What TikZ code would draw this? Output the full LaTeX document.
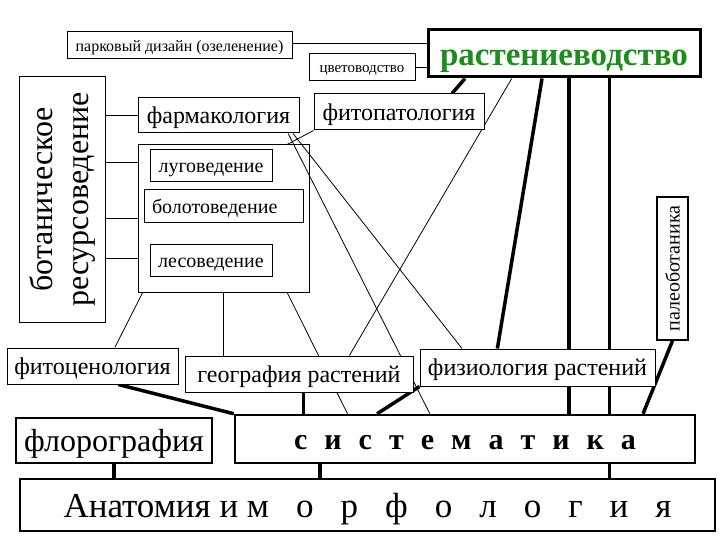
\documentclass[tikz,border=0pt]{standalone}
\usepackage{fontspec}
\setmainfont{Liberation Serif}
\usetikzlibrary{calc,backgrounds}
\definecolor{plantgreen}{RGB}{30,140,30}
\newcommand{\fsz}[1]{\fontsize{#1}{#1}\selectfont}
\tikzset{
    box/.style = {
        draw,
        fill = white,
        line width = 1pt,
        inner sep = 0pt,
        },
    bold box/.style = {
        box,
        line width = 2.5pt,
        },
    frame/.style = {
        draw,
        line width = 1pt,
        inner sep = 0pt,
        },
    fs/.style = {
        font = \fsz{#1},
        text height = 0.95*#1pt,
        text depth = 0.25*#1pt,
        },
    thin link/.style = {
        line width = 0.8pt,
        },
    thick link/.style = {
        line width = 3.5pt,
        },
}

\begin{document}
\begin{tikzpicture}[x=1pt, y=-1pt]
\useasboundingbox (0,0) rectangle (720,540);

% upper part
\node [box, minimum width=225pt, minimum height=27pt, fs=16] (park) at (179.5,45.5) {парковый дизайн (озеленение)};
\node [box, minimum width=106pt, minimum height=27pt, fs=15] (cvet) at (362,67.5) {цветоводство};
\node [bold box, line width=3pt, minimum width=272pt, minimum height=47pt, fs=33, font=\fsz{33}\bfseries, text=plantgreen] (rast) at (564,53.5) {растениеводство};
\node [box, minimum width=161pt, minimum height=35pt, fs=24] (farm) at (218.5,115.5) {фармакология};
\node [box, minimum width=170pt, minimum height=36pt, fs=24] (fitopat) at (399,112) {фитопатология};
\node [box, rotate=90, align=center, minimum width=245pt, minimum height=86pt, font=\fontsize{32}{36}\selectfont] (bot) at (62,199.5) {ботаническое\\ресурсоведение};

% group of resource sciences
\node [frame, minimum width=171pt, minimum height=147pt] (group) at (223.5,218.5) {};
\node [box, minimum width=122pt, minimum height=32pt, fs=20] (lug) at (211,166) {луговедение};
\node [box, minimum width=159pt, minimum height=33pt, fs=20] (bolot) at (223.5,206.5) {\makebox[143pt][l]{болотоведение}};
\node [box, minimum width=122pt, minimum height=32pt, fs=20] (les) at (211,260) {лесоведение};

\node [box, line width=1.5pt, rotate=90, minimum width=143pt, minimum height=31pt, fs=20] (paleo) at (672.5,268.5) {палеоботаника};

% lower part
\node [box, minimum width=171pt, minimum height=36pt, fs=24] (cenol) at (92.5,366) {фитоценология};
\node [box, minimum width=228pt, minimum height=36pt, fs=24] (geogr) at (299,374) {география растений};
\node [box, minimum width=235pt, minimum height=37pt, fs=24] (fiziol) at (537.5,367.5) {физиология растений};
\node [box, line width=1.5pt, minimum width=196pt, minimum height=45pt, fs=32] (florogr) at (114,440.5) {флорография};
\node [bold box, minimum width=460pt, minimum height=48pt, fs=30, font=\fsz{30}\bfseries] (sist) at (465,439) {{\spaceskip=17pt\relax с и с т е м а т и к а}};
\node [bold box, minimum width=695pt, minimum height=52pt, fs=35] (anat) at (367.5,505) {Анатомия и м\hspace{27pt}{\spaceskip=27pt\relax о р ф о л о г и я}};

\begin{scope}[on background layer]
    \path ($(park.north east)!.41!(park.south east)$) coordinate (p1)
          ($(rast.south west)!.518!(rast.south east)$) coordinate (r1)
          ($(rast.south west)!.665!(rast.south east)$) coordinate (r2)
          ($(geogr.south west)!.52!(geogr.south east)$) coordinate (geo1)
          ($(sist.south west)!.187!(sist.south east)$) coordinate (s1)
          ($(group.north west)!.12!(group.south west)$) coordinate (g1)
          ($(group.north west)!.5!(group.south west)$) coordinate (g2)
          ($(group.north west)!.77!(group.south west)$) coordinate (g3);

    \draw [thin link] (p1) -- (p1 -| rast.west);
    \draw [thin link] (cvet.east) -- (cvet.east -| rast.west);
    \draw [thin link] (farm.west) -- (farm.west -| bot.south);
    \draw [thin link] (g1) -- (g1 -| bot.south);
    \draw [thin link] (g2) -- (g2 -| bot.south);
    \draw [thin link] (g3) -- (g3 -| bot.south);

    \draw [thin link] ($(group.south west)!.03!(group.south east)$) -- ($(cenol.north west)!.63!(cenol.north east)$);
    \draw [thin link] (group.south) -- (group.south |- geogr.north);
    \draw [thin link] ($(group.south west)!.87!(group.south east)$) -- ($(sist.north west)!.246!(sist.north east)$);
    \draw [thin link] ($(farm.south west)!.93!(farm.south east)$) -- ($(sist.north west)!.424!(sist.north east)$);
    \draw [thin link] ($(farm.south west)!.96!(farm.south east)$) -- ($(fiziol.north west)!.18!(fiziol.north east)$);
    \draw [thin link] (fitopat.south west) -- ($(group.north west)!.87!(group.north east)$);
    \draw [thin link] ($(rast.south west)!.31!(rast.south east)$) -- ($(geogr.north west)!.72!(geogr.north east)$);

    \draw [thick link] ($(fitopat.north west)!.81!(fitopat.north east)$) -- ($(rast.south west)!.14!(rast.south east)$);
    \draw [thick link] ($(rast.south west)!.42!(rast.south east)$) -- ($(fiziol.north west)!.33!(fiziol.north east)$);
    \draw [thick link] (r1) -- (r1 |- sist.north);
    \draw [thick link] (r2) -- (r2 |- anat.north);
    \draw [thick link] (paleo.west) -- ($(sist.north west)!.885!(sist.north east)$);
    \draw [thick link] (fiziol.south west) -- ($(sist.north west)!.31!(sist.north east)$);
    \draw [thick link] (geo1) -- (geo1 |- sist.north);
    \draw [thick link] ($(cenol.south west)!.65!(cenol.south east)$) -- (sist.north west);
    \draw [thick link] (florogr.south) -- (florogr.south |- anat.north);
    \draw [thick link] (s1) -- (s1 |- anat.north);
\end{scope}
\end{tikzpicture}
\end{document}
